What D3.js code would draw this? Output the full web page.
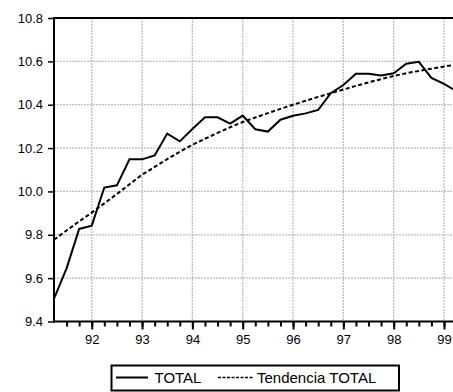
<!DOCTYPE html>
<html><head><meta charset="utf-8">
<script src="https://cdn.jsdelivr.net/npm/d3@7"></script>
<style>
body{margin:0;background:#fff;}
svg{display:block;font-family:"Liberation Sans",Arial,sans-serif;}
</style></head>
<body>
<svg id="chart" width="453" height="392"></svg>
<script>
// Quarterly periods 1991Q2 .. 1999Q2
const periods = ["1991Q2","1991Q3","1991Q4",
  "1992Q1","1992Q2","1992Q3","1992Q4",
  "1993Q1","1993Q2","1993Q3","1993Q4",
  "1994Q1","1994Q2","1994Q3","1994Q4",
  "1995Q1","1995Q2","1995Q3","1995Q4",
  "1996Q1","1996Q2","1996Q3","1996Q4",
  "1997Q1","1997Q2","1997Q3","1997Q4",
  "1998Q1","1998Q2","1998Q3","1998Q4",
  "1999Q1","1999Q2"];
const total = [9.505,9.645,9.827,9.842,10.018,10.028,10.148,10.148,
  10.166,10.267,10.231,10.288,10.342,10.342,10.313,10.350,
  10.287,10.276,10.331,10.349,10.360,10.376,10.453,10.491,
  10.543,10.543,10.535,10.545,10.589,10.598,10.524,10.496,10.462];
const trend = [9.777,9.820,9.862,9.902,9.945,9.988,10.033,10.077,
  10.113,10.149,10.183,10.215,10.243,10.270,10.296,10.320,
  10.341,10.361,10.381,10.400,10.418,10.436,10.453,10.470,
  10.487,10.503,10.518,10.533,10.545,10.556,10.566,10.576,10.585];
const yTicks = [9.4,9.6,9.8,10.0,10.2,10.4,10.6,10.8];
const yearTicks = [1992,1993,1994,1995,1996,1997,1998,1999];
const seriesNames = ["TOTAL","Tendencia TOTAL"];

const toT = p => +p.slice(0,4) + (+p.slice(5) - 1) / 4;

const svg = d3.select("#chart");
const L = 54, T = 18, B = 321.5, Rclip = 453;
const x = d3.scaleLinear().domain([1991.25, 1999]).range([L, 444]);
const y = d3.scaleLinear().domain([9.4, 10.8]).range([B, T]);

svg.append("defs").append("clipPath").attr("id","clip")
  .append("rect").attr("x", L).attr("y", T - 2).attr("width", Rclip - L).attr("height", B - T + 4);

// grid
const grid = svg.append("g").attr("stroke","#bdbdbd").attr("stroke-width",1.3).attr("stroke-dasharray","2,1");
grid.selectAll("line.h").data(yTicks.filter(v => v > 9.41 && v < 10.79)).join("line")
  .attr("x1", L).attr("x2", Rclip).attr("y1", d => y(d)).attr("y2", d => y(d));
grid.selectAll("line.v").data(yearTicks).join("line")
  .attr("x1", d => x(d)).attr("x2", d => x(d)).attr("y1", T).attr("y2", B);

// top border
svg.append("line").attr("x1", L).attr("x2", Rclip).attr("y1", T).attr("y2", T)
  .attr("stroke","#000").attr("stroke-width",2);

// series
const pts = periods.map((p, i) => ({t: toT(p), a: total[i], b: trend[i]}));
const g = svg.append("g").attr("clip-path","url(#clip)");
g.append("path").datum(pts)
  .attr("d", d3.line().x(d => x(d.t)).y(d => y(d.b)))
  .attr("fill","none").attr("stroke","#000").attr("stroke-width",2).attr("stroke-dasharray","4,2.5");
g.append("path").datum(pts)
  .attr("d", d3.line().x(d => x(d.t)).y(d => y(d.a)))
  .attr("fill","none").attr("stroke","#000").attr("stroke-width",2);

// y axis
const yAxis = svg.append("g").attr("transform", `translate(${L},0)`)
  .call(d3.axisLeft(y).tickValues(yTicks).tickSize(6).tickPadding(5).tickFormat(d3.format(".1f")));
yAxis.select(".domain").attr("stroke-width",2).attr("d", `M0,${T-1}V${B+1}`);
yAxis.selectAll(".tick line").attr("stroke-width",1.5);
yAxis.selectAll("text").attr("font-size",13).attr("fill","#000")
  .attr("font-family","Liberation Sans, Arial, sans-serif");

// x axis minor ticks
const quarters = periods.map(toT).filter(t => t > 1991.3);
const xMinor = svg.append("g").attr("transform", `translate(0,${B})`)
  .call(d3.axisBottom(x).tickValues(quarters).tickSize(5).tickFormat(""));
xMinor.select(".domain").remove();
xMinor.selectAll(".tick line").attr("stroke-width",2);

// x axis major
const xAxis = svg.append("g").attr("transform", `translate(0,${B})`)
  .call(d3.axisBottom(x).tickValues(yearTicks).tickSize(8).tickPadding(5)
    .tickFormat(d => String(d).slice(2)));
xAxis.select(".domain").attr("stroke-width",2).attr("d", `M${L-1},0H${Rclip}`);
xAxis.selectAll(".tick line").attr("stroke-width",2);
xAxis.selectAll("text").attr("font-size",13).attr("fill","#000")
  .attr("font-family","Liberation Sans, Arial, sans-serif");

// legend
const lg = svg.append("g");
lg.append("rect").attr("x",111.5).attr("y",365.5).attr("width",287.5).attr("height",25)
  .attr("fill","none").attr("stroke","#000").attr("stroke-width",2);
lg.append("line").attr("x1",116).attr("x2",148).attr("y1",377.5).attr("y2",377.5)
  .attr("stroke","#000").attr("stroke-width",2);
lg.append("text").attr("x",154.5).attr("y",383).attr("font-size",15).text(seriesNames[0]);
lg.append("line").attr("x1",218).attr("x2",253).attr("y1",377.5).attr("y2",377.5)
  .attr("stroke","#000").attr("stroke-width",1.5).attr("stroke-dasharray","3,1.5");
lg.append("text").attr("x",257).attr("y",383).attr("font-size",15).text(seriesNames[1]);
</script>
</body></html>
